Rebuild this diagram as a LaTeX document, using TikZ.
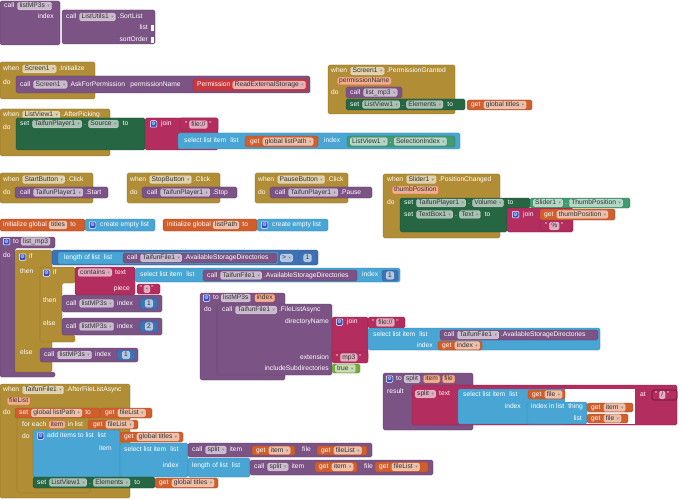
\documentclass[tikz,border=0pt]{standalone}
\usepackage{fontspec}
\setmainfont{Liberation Sans}
\newfontfamily\symfont{DejaVu Sans}
\usepackage{tikz}
\usetikzlibrary{positioning}

\definecolor{ctrl}{HTML}{B18E35}
\definecolor{proc}{HTML}{7C5385}
\definecolor{setter}{HTML}{266643}
\definecolor{getter}{HTML}{439970}
\definecolor{txt}{HTML}{B32D5E}
\definecolor{lst}{HTML}{49A6D4}
\definecolor{mth}{HTML}{3F71B5}
\definecolor{var}{HTML}{D05F2D}
\definecolor{lgc}{HTML}{77AB41}
\definecolor{perm}{HTML}{C8383D}
\definecolor{mutblue}{HTML}{3550C4}
\definecolor{prmfill}{HTML}{F2AC8E}
\definecolor{prmline}{HTML}{D8693A}

\newcommand{\lblfont}{\fontsize{6.7}{7.5}\selectfont}
\newcommand{\dd}{\hspace{2.5pt}{\color{black!45}\symfont\fontsize{4.5}{4.5}\selectfont ▾}}
\newcommand{\gearsym}{⚙}
\newcommand{\gap}{\hspace{4pt}}

\tikzset{
  blk/.style={fill=#1, draw=#1!75!black, line width=0.3pt, rounded corners=1.5pt},
  lbl/.style={text=white, inner sep=0pt, anchor=west, font=\lblfont, text height=4.7pt, text depth=1.3pt},
  lblr/.style={lbl, anchor=east},
  fld/.style={fill=white, fill opacity=0.6, text opacity=1, text=black!80, draw=white, draw opacity=0.4,
    line width=0.3pt, rounded corners=1.5pt, inner xsep=2pt, inner ysep=0.9pt, anchor=west,
    font=\lblfont, text height=4.7pt, text depth=1.3pt},
  prm/.style={fld, fill=prmfill, fill opacity=1, draw=prmline, draw opacity=1},
  gearbox/.style={anchor=west, minimum size=6.5pt, inner sep=0pt, rounded corners=1pt, fill=mutblue,
    draw=white, line width=0.5pt, text=white, font=\symfont\fontsize{5}{5}\selectfont},
}

\begin{document}
\begin{tikzpicture}[x=1pt, y=-1pt]
\fill[white] (0,0) rectangle (683,500);
\useasboundingbox (0,0) rectangle (683,500);

% call listMP3s with SortList
\draw[blk=proc] (0,1) rectangle (60,45);
\node[lbl] (lmCall) at (4,6) {call};
\node[fld, right=3pt of lmCall] (lmName) {listMP3s\dd};
\node[lblr] (lmIndex) at (54,17) {index};
\draw[blk=proc] (62,10) rectangle (155,44);
\node[lbl] (suCall) at (66,17) {call};
\node[fld, right=3pt of suCall] (suComp) {ListUtils1\dd};
\node[lbl, right=2pt of suComp] (suMeth) {.SortList};
\node[lblr] (suList) at (148,28) {list};
\node[lblr] (suOrder) at (148,40) {sortOrder};
\fill[white] (151,25) rectangle (154,31);
\fill[white] (151,37) rectangle (154,43);

% Screen1.Initialize
\draw[blk=ctrl] (0,62) rectangle (95,99);
\node[lbl] (s1When) at (3,69) {when};
\node[fld, right=3pt of s1When] (s1Comp) {Screen1\dd};
\node[lbl, right=2pt of s1Comp] (s1Ev) {.Initialize};
\node[lbl] (s1Do) at (3,83) {do};
\draw[blk=proc] (16,76) rectangle (310,93);
\node[lbl] (s1Call) at (20,84.5) {call};
\node[fld, right=3pt of s1Call] (s1Comp2) {Screen1\dd};
\node[lbl, right=3pt of s1Comp2] (s1Meth) {AskForPermission};
\node[lbl, right=5pt of s1Meth] (s1Arg) {permissionName};
\draw[blk=perm] (193,79) rectangle (308,91);
\node[lbl] (s1Perm) at (197,85) {Permission};
\node[fld, right=2pt of s1Perm] (s1PermV) {ReadExternalStorage\dd};

% Screen1.PermissionGranted
\draw[blk=ctrl] (328,65) rectangle (455,114);
\node[lbl] (pgWhen) at (331,71) {when};
\node[fld, right=3pt of pgWhen] (pgComp) {Screen1\dd};
\node[lbl, right=2pt of pgComp] (pgEv) {.PermissionGranted};
\node[prm] (pgArg) at (337,81) {permissionName};
\node[lbl] (pgDo) at (331,93) {do};
\draw[blk=proc] (346,87) rectangle (402,98);
\node[lbl] (pgCall) at (350,92.5) {call};
\node[fld, right=3pt of pgCall] (pgProc) {list\_mp3\dd};
\draw[blk=setter] (346,99) rectangle (465,110);
\node[lbl] (pgSet) at (350,104.5) {set};
\node[fld, right=3pt of pgSet] (pgComp2) {ListView1\dd};
\node[lbl, right=2pt of pgComp2] (pgDot) {.};
\node[fld, right=2pt of pgDot] (pgProp) {Elements\dd};
\node[lbl, right=4pt of pgProp] (pgTo) {to};
\draw[blk=var] (467,100) rectangle (532,110);
\node[lbl] (pgGet) at (471,105) {get};
\node[fld, right=3pt of pgGet] (pgVar) {global titles\dd};

% ListView1.AfterPicking
\draw[blk=ctrl] (0,109) rectangle (110,156);
\node[lbl] (apWhen) at (3,115) {when};
\node[fld, right=3pt of apWhen] (apComp) {ListView1\dd};
\node[lbl, right=2pt of apComp] (apEv) {.AfterPicking};
\node[lbl] (apDo) at (3,128) {do};
\draw[blk=setter] (16,118) rectangle (145,150);
\node[lbl] (apSet) at (20,124) {set};
\node[fld, right=3pt of apSet] (apComp2) {TaifunPlayer1\dd};
\node[lbl, right=2pt of apComp2] (apDot) {.};
\node[fld, right=2pt of apDot] (apProp) {Source\dd};
\node[lbl, right=4pt of apProp] (apTo) {to};
\draw[blk=txt] (145,118) rectangle (218,150);
\node[gearbox] (apGear) at (150,124) {\gearsym};
\node[lbl, right=4pt of apGear] (apJoin) {join};
\draw[blk=txt] (180,118) rectangle (218,131);
\node[lbl] (apQ1) at (185,124.5) {"};
\node[fld, right=1.5pt of apQ1] (apStr) {file://};
\node[lbl, right=1.5pt of apStr] (apQ2) {"};
\draw[blk=lst] (178,133) rectangle (460,149);
\node[lbl] (apSel) at (184,141) {select list item\gap list};
\draw[blk=var] (245,136) rectangle (318,147);
\node[lbl] (apGet) at (250,141.5) {get};
\node[fld, right=3pt of apGet] (apVar) {global listPath\dd};
\node[lbl] (apIdx) at (324,141) {index};
\draw[blk=getter] (347,136) rectangle (455,147);
\node[fld] (apComp3) at (350,141.5) {ListView1\dd};
\node[lbl, right=2pt of apComp3] (apDot2) {.};
\node[fld, right=2pt of apDot2] (apProp2) {SelectionIndex\dd};

% button clicks
\foreach \bx/\btn/\meth/\pr in {0/StartButton/Start/108, 127/StopButton/Stop/237, 255/PauseButton/Pause/372} {
  \draw[blk=ctrl] (\bx,173) rectangle (\bx+93,203);
  \node[lbl] (\btn-when) at (\bx+3,179.5) {when};
  \node[fld, right=3pt of \btn-when] (\btn-comp) {\btn\dd};
  \node[lbl, right=2pt of \btn-comp] (\btn-ev) {.Click};
  \node[lbl] (\btn-do) at (\bx+3,192.5) {do};
  \draw[blk=proc] (\bx+15,187) rectangle (\pr,198);
  \node[lbl] (\btn-call) at (\bx+20,192.5) {call};
  \node[fld, right=3pt of \btn-call] (\btn-player) {TaifunPlayer1\dd};
  \node[lbl, right=2pt of \btn-player] (\btn-meth) {.\meth};
}

% Slider1.PositionChanged
\draw[blk=ctrl] (383,174) rectangle (500,238);
\node[lbl] (pcWhen) at (387,179.5) {when};
\node[fld, right=3pt of pcWhen] (pcComp) {Slider1\dd};
\node[lbl, right=2pt of pcComp] (pcEv) {.PositionChanged};
\node[prm] (pcArg) at (392,190) {thumbPosition};
\node[lbl] (pcDo) at (387,203) {do};
\draw[blk=setter] (400,198) -- (530,198) -- (530,208) -- (507,208) -- (507,232) -- (400,232) -- cycle;
\node[lbl] (pcSet1) at (404,203) {set};
\node[fld, right=3pt of pcSet1] (pcComp2) {TaifunPlayer1\dd};
\node[lbl, right=2pt of pcComp2] (pcDot1) {.};
\node[fld, right=2pt of pcDot1] (pcProp1) {Volume\dd};
\node[lbl, right=4pt of pcProp1] (pcTo1) {to};
\draw[blk=getter] (530,198) rectangle (630,208);
\node[fld] (pcComp3) at (533,203) {Slider1\dd};
\node[lbl, right=2pt of pcComp3] (pcDot2) {.};
\node[fld, right=2pt of pcDot2] (pcProp2) {ThumbPosition\dd};
\node[lbl] (pcSet2) at (404,214.5) {set};
\node[fld, right=3pt of pcSet2] (pcComp4) {TextBox1\dd};
\node[lbl, right=2pt of pcComp4] (pcDot3) {.};
\node[fld, right=2pt of pcDot3] (pcProp3) {Text\dd};
\node[lbl, right=4pt of pcProp3] (pcTo2) {to};
\draw[blk=txt] (507,208) rectangle (573,232);
\node[gearbox] (pcGear) at (512,214.5) {\gearsym};
\node[lbl, right=4pt of pcGear] (pcJoin) {join};
\draw[blk=var] (540,209) rectangle (615,220);
\node[lbl] (pcGet) at (544,214.5) {get};
\node[fld, right=3pt of pcGet] (pcVar) {thumbPosition\dd};
\draw[blk=txt] (540,221) rectangle (572,231);
\node[lbl] (pcQ1) at (545,226) {"};
\node[fld, right=1.5pt of pcQ1] (pcStr) {\%};
\node[lbl, right=1.5pt of pcStr] (pcQ2) {"};

% globals
\draw[blk=var] (0,219) rectangle (85,231);
\node[lbl] (g1Init) at (3,225) {initialize global};
\node[fld, right=2pt of g1Init] (g1Name) {titles};
\node[lbl, right=3pt of g1Name] (g1To) {to};
\draw[blk=lst] (85,219) rectangle (155,231);
\node[gearbox] (g1Gear) at (89,225) {\gearsym};
\node[lbl, right=4pt of g1Gear] (g1Make) {create empty list};
\draw[blk=var] (163,219) rectangle (257,231);
\node[lbl] (g2Init) at (167,225) {initialize global};
\node[fld, right=2pt of g2Init] (g2Name) {listPath};
\node[lbl, right=3pt of g2Name] (g2To) {to};
\draw[blk=lst] (257,219) rectangle (328,231);
\node[gearbox] (g2Gear) at (261,225) {\gearsym};
\node[lbl, right=4pt of g2Gear] (g2Make) {create empty list};

% to list_mp3
\draw[blk=proc] (0,237) -- (55,237) -- (55,248) -- (15,248) -- (15,372) -- (55,372) -- (55,377) -- (0,377) -- cycle;
\node[gearbox] (lmGear) at (3,241.5) {\gearsym};
\node[lbl, right=3pt of lmGear] (lmTo) {to};
\node[fld, right=2pt of lmTo] (lmName2) {list\_mp3};
\node[lbl] (lmDo) at (3,256) {do};
\draw[blk=ctrl] (15,250) rectangle (52,372);
\node[gearbox] (if1Gear) at (19,257) {\gearsym};
\node[lbl, right=3pt of if1Gear] (if1If) {if};
\node[lbl] (if1Then) at (20,272) {then};
\node[lbl] (if1Else) at (20,353) {else};
\draw[blk=mth] (52,250) rectangle (318,265);
\draw[blk=lst] (58,252) rectangle (278,264);
\node[lbl] (lenLbl) at (64,258) {length of list\gap list};
\draw[blk=proc] (123,253) rectangle (277,263);
\node[lbl] (asd1Call) at (127,258) {call};
\node[fld, right=3pt of asd1Call] (asd1Comp) {TaifunFile1\dd};
\node[lbl, right=2pt of asd1Comp] (asd1Meth) {.AvailableStorageDirectories};
\node[fld] (cmpOp) at (280,258) {>\dd};
\draw[blk=mth] (299,252) rectangle (316,264);
\node[fld, anchor=center] (cmpNum) at (307.5,258) {1};
\draw[blk=ctrl] (40,267) -- (75,267) -- (75,283) -- (62,283) -- (62,335) -- (75,335) -- (75,342) -- (40,342) -- cycle;
\node[gearbox] (if2Gear) at (43,273) {\gearsym};
\node[lbl, right=3pt of if2Gear] (if2If) {if};
\node[lbl] (if2Then) at (43,301) {then};
\node[lbl] (if2Else) at (43,324) {else};
\draw[blk=txt] (75,267) rectangle (135,295);
\node[fld] (ctOp) at (78,272.5) {contains\dd};
\node[lbl, right=3pt of ctOp] (ctText) {text};
\node[lblr] (ctPiece) at (130,289) {piece};
\draw[blk=lst] (135,268) rectangle (400,282);
\node[lbl] (sl1Lbl) at (140,275) {select list item\gap list};
\draw[blk=proc] (203,270) rectangle (357,281);
\node[lbl] (asd2Call) at (207,275.5) {call};
\node[fld, right=3pt of asd2Call] (asd2Comp) {TaifunFile1\dd};
\node[lbl, right=2pt of asd2Comp] (asd2Meth) {.AvailableStorageDirectories};
\node[lbl] (sl1Idx) at (362,275) {index};
\draw[blk=mth] (382,270) rectangle (398,281);
\node[fld, anchor=center] (sl1Num) at (390,275.5) {1};
\draw[blk=txt] (137,284) rectangle (160,294);
\node[lbl] (dashQ1) at (140,289) {"};
\node[fld, right=1pt of dashQ1] (dashStr) {-};
\node[lbl, right=1pt of dashStr] (dashQ2) {"};
\draw[blk=proc] (62,295) rectangle (162,312);
\node[lbl] (ca1Call) at (66,303.5) {call};
\node[fld, right=3pt of ca1Call] (ca1Proc) {listMP3s\dd};
\node[lbl, right=3pt of ca1Proc] (ca1Idx) {index};
\draw[blk=mth] (140,298) rectangle (158,309);
\node[fld, anchor=center] (ca1Num) at (149,303.5) {1};
\draw[blk=proc] (62,318) rectangle (162,335);
\node[lbl] (ca2Call) at (66,326.5) {call};
\node[fld, right=3pt of ca2Call] (ca2Proc) {listMP3s\dd};
\node[lbl, right=3pt of ca2Proc] (ca2Idx) {index};
\draw[blk=mth] (140,321) rectangle (158,332);
\node[fld, anchor=center] (ca2Num) at (149,326.5) {2};
\draw[blk=proc] (40,348) rectangle (138,362);
\node[lbl] (ca3Call) at (44,355) {call};
\node[fld, right=3pt of ca3Call] (ca3Proc) {listMP3s\dd};
\node[lbl, right=3pt of ca3Proc] (ca3Idx) {index};
\draw[blk=mth] (117,350) rectangle (135,360);
\node[fld, anchor=center] (ca3Num) at (126,355) {1};

% to listMP3s index
\draw[blk=proc] (200,293) rectangle (285,380);
\node[gearbox] (lpGear) at (203,298) {\gearsym};
\node[lbl, right=3pt of lpGear] (lpTo) {to};
\node[fld, right=2pt of lpTo] (lpName) {listMP3s};
\node[prm, right=4pt of lpName] (lpArg) {index};
\node[lbl] (lpDo) at (204,310) {do};
\draw[blk=proc] (217,304) rectangle (332,375);
\node[lbl] (flCall) at (222,310) {call};
\node[fld, right=3pt of flCall] (flComp) {TaifunFile1\dd};
\node[lbl, right=2pt of flComp] (flMeth) {.FileListAsync};
\node[lblr] (flDir) at (329,322) {directoryName};
\node[lblr] (flExt) at (329,357.5) {extension};
\node[lblr] (flSub) at (329,369) {includeSubdirectories};
\draw[blk=txt] (332,317) rectangle (368,360);
\node[gearbox] (flGear) at (336,322) {\gearsym};
\node[lbl, right=4pt of flGear] (flJoin) {join};
\draw[blk=txt] (368,317) rectangle (405,328);
\node[lbl] (flQ1) at (372,322.5) {"};
\node[fld, right=1.5pt of flQ1] (flStr) {file://};
\node[lbl, right=1.5pt of flStr] (flQ2) {"};
\draw[blk=lst] (368,328) rectangle (600,350);
\node[lbl] (sl2Lbl) at (373,334.5) {select list item\gap list};
\draw[blk=proc] (440,330) rectangle (598,340);
\node[lbl] (asd3Call) at (444,335) {call};
\node[fld, right=3pt of asd3Call] (asd3Comp) {TaifunFile1\dd};
\node[lbl, right=2pt of asd3Comp] (asd3Meth) {.AvailableStorageDirectories};
\node[lblr] (sl2Idx) at (433,345.5) {index};
\draw[blk=var] (438,341) rectangle (482,350);
\node[lbl] (sl2Get) at (442,345.5) {get};
\node[fld, right=3pt of sl2Get] (sl2Var) {index\dd};
\draw[blk=txt] (332,352) rectangle (368,363);
\node[lbl] (mpQ1) at (336,357.5) {"};
\node[fld, right=1.5pt of mpQ1] (mpStr) {mp3};
\node[lbl, right=1.5pt of mpStr] (mpQ2) {"};
\draw[blk=lgc] (332,364) rectangle (360,373);
\node[fld] (flTrue) at (335,368.5) {true\dd};

% to split item file
\draw[blk=proc] (383,373) rectangle (473,430);
\node[gearbox] (spGear) at (386,379) {\gearsym};
\node[lbl, right=3pt of spGear] (spTo) {to};
\node[fld, right=2pt of spTo] (spName) {split};
\node[prm, right=3pt of spName] (spArg1) {item};
\node[prm, right=2pt of spArg1] (spArg2) {file};
\node[lbl] (spRes) at (387,392) {result};
\draw[blk=txt] (412,385) rectangle (677,425);
\node[fld] (spOp) at (415,394) {split\dd};
\node[lbl, right=3pt of spOp] (spText) {text};
\draw[blk=lst] (458,389) rectangle (566,424);
\fill[white] (565,389) rectangle (635,424);
\node[lbl] (sl3Lbl) at (463,394.5) {select list item\gap list};
\draw[blk=var] (528,390) rectangle (565,399);
\node[lbl] (sl3Get) at (532,394.5) {get};
\node[fld, right=3pt of sl3Get] (sl3Var) {file\dd};
\node[lblr] (sl3Idx) at (521,406.5) {index};
\draw[blk=lst] (527,402) rectangle (587,424);
\node[lbl] (ilLbl) at (531,407) {index in list\gap thing};
\node[lblr] (ilList) at (582,418.5) {list};
\draw[blk=var] (587,403) rectangle (633,412);
\node[lbl] (ilGet1) at (591,407.5) {get};
\node[fld, right=3pt of ilGet1] (ilVar1) {item\dd};
\draw[blk=var] (587,414) rectangle (628,423);
\node[lbl] (ilGet2) at (591,418.5) {get};
\node[fld, right=3pt of ilGet2] (ilVar2) {file\dd};
\node[lbl] (spAt) at (640,395) {at};
\draw[blk=txt, draw=txt!50!black, line width=0.6pt] (652,390) rectangle (677,400);
\node[lbl] (slQ1) at (655,395) {"};
\node[fld, right=1.5pt of slQ1] (slStr) {/};
\node[lbl, right=1.5pt of slStr] (slQ2) {"};

% TaifunFile1.AfterFileListAsync
\draw[blk=ctrl] (0,384) rectangle (130,498);
\node[lbl] (faWhen) at (3,390) {when};
\node[fld, right=3pt of faWhen] (faComp) {TaifunFile1\dd};
\node[lbl, right=2pt of faComp] (faEv) {.AfterFileListAsync};
\node[prm] (faArg) at (7,401) {fileList};
\node[lbl] (faDo) at (3,413) {do};
\draw[blk=var] (15,408) rectangle (100,418);
\node[lbl] (faSet) at (19,413) {set};
\node[fld, right=3pt of faSet] (faVar) {global listPath\dd};
\node[lbl, right=3pt of faVar] (faTo) {to};
\draw[blk=var] (100,408) rectangle (152,418);
\node[lbl] (faGet) at (105,413) {get};
\node[fld, right=3pt of faGet] (faGetV) {fileList\dd};
\draw[blk=ctrl] (17,418) rectangle (90,493);
\node[lbl] (feLbl) at (22,424.5) {for each};
\node[prm, right=2pt of feLbl] (feVar) {item};
\node[lbl, right=2pt of feVar] (feIn) {in list};
\node[lbl] (feDo) at (22,437) {do};
\draw[blk=var] (88,420) rectangle (138,429);
\node[lbl] (feGet) at (93,424.5) {get};
\node[fld, right=3pt of feGet] (feGetV) {fileList\dd};
\draw[blk=lst] (33,430) rectangle (120,477);
\node[gearbox] (aiGear) at (37,436) {\gearsym};
\node[lbl, right=3pt of aiGear] (aiLbl) {add items to list\gap list};
\node[lblr] (aiItem) at (112,449) {item};
\draw[blk=var] (120,432) rectangle (183,442);
\node[lbl] (aiGet) at (124,437) {get};
\node[fld, right=3pt of aiGet] (aiGetV) {global titles\dd};
\draw[blk=lst] (120,443) rectangle (188,477);
\node[lbl] (sl4Lbl) at (124,449.5) {select list item\gap list};
\node[lblr] (sl4Idx) at (179,465.5) {index};
\draw[blk=proc] (188,443) rectangle (372,457);
\node[lbl] (cs1Call) at (192,450) {call};
\node[fld, right=3pt of cs1Call] (cs1Proc) {split\dd};
\node[lbl, right=3pt of cs1Proc] (cs1Item) {item};
\draw[blk=var] (252,446) rectangle (295,455);
\node[lbl] (cs1Get1) at (256,450.5) {get};
\node[fld, right=3pt of cs1Get1] (cs1Var1) {item\dd};
\node[lbl] (cs1File) at (302,450) {file};
\draw[blk=var] (317,446) rectangle (367,455);
\node[lbl] (cs1Get2) at (321,450.5) {get};
\node[fld, right=3pt of cs1Get2] (cs1Var2) {fileList\dd};
\draw[blk=lst] (188,458) rectangle (250,477);
\node[lbl] (lenLbl2) at (192,465.5) {length of list\gap list};
\draw[blk=proc] (250,460) rectangle (433,475);
\node[lbl] (cs2Call) at (254,467) {call};
\node[fld, right=3pt of cs2Call] (cs2Proc) {split\dd};
\node[lbl, right=3pt of cs2Proc] (cs2Item) {item};
\draw[blk=var] (315,462) rectangle (357,472);
\node[lbl] (cs2Get1) at (319,467) {get};
\node[fld, right=3pt of cs2Get1] (cs2Var1) {item\dd};
\node[lbl] (cs2File) at (364,467) {file};
\draw[blk=var] (375,462) rectangle (428,472);
\node[lbl] (cs2Get2) at (379,467) {get};
\node[fld, right=3pt of cs2Get2] (cs2Var2) {fileList\dd};
\draw[blk=setter] (33,477) rectangle (155,488);
\node[lbl] (faSet2) at (37,482.5) {set};
\node[fld, right=3pt of faSet2] (faComp2) {ListView1\dd};
\node[lbl, right=2pt of faComp2] (faDot) {.};
\node[fld, right=2pt of faDot] (faProp) {Elements\dd};
\node[lbl, right=4pt of faProp] (faTo2) {to};
\draw[blk=var] (155,478) rectangle (218,488);
\node[lbl] (faGet2) at (159,483) {get};
\node[fld, right=3pt of faGet2] (faGetV2) {global titles\dd};

\end{tikzpicture}
\end{document}
